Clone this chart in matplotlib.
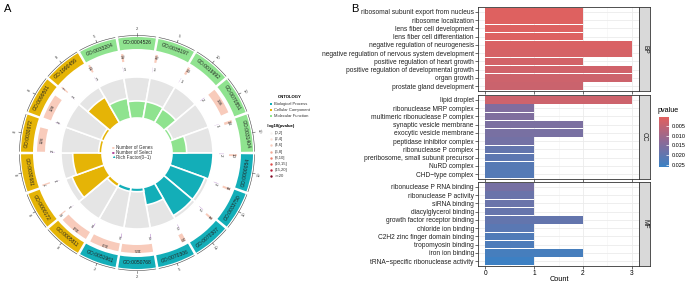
import numpy as np
import matplotlib.pyplot as plt
from matplotlib.colors import LinearSegmentedColormap, Normalize
from matplotlib.colorbar import ColorbarBase

plt.rcParams['font.family'] = ['Liberation Sans', 'DejaVu Sans']

# ---- panel B data ---------------------------------------------------------
bp_terms = ["ribosomal subunit export from nucleus", "ribosome localization",
            "lens fiber cell development", "lens fiber cell differentiation",
            "negative regulation of neurogenesis",
            "negative regulation of nervous system development",
            "positive regulation of heart growth",
            "positive regulation of developmental growth", "organ growth",
            "prostate gland development"]
bp_count = [2, 2, 2, 2, 3, 3, 2, 3, 3, 2]
bp_pvalue = [0.0011, 0.0011, 0.0013, 0.0013, 0.0019, 0.0024, 0.0029, 0.0032, 0.0036, 0.0040]

cc_terms = ["lipid droplet", "ribonuclease MRP complex",
            "multimeric ribonuclease P complex", "synaptic vesicle membrane",
            "exocytic vesicle membrane", "peptidase inhibitor complex",
            "ribonuclease P complex", "preribosome, small subunit precursor",
            "NuRD complex", "CHD\u2212type complex"]
cc_count = [3, 1, 1, 2, 2, 1, 1, 1, 1, 1]
cc_pvalue = [0.0036, 0.0150, 0.0152, 0.0158, 0.0162, 0.0170, 0.0195, 0.0205, 0.0215, 0.0218]

mf_terms = ["ribonuclease P RNA binding", "ribonuclease P activity", "siRNA binding",
            "diacylglycerol binding", "growth factor receptor binding",
            "chloride ion binding", "C2H2 zinc finger domain binding",
            "tropomyosin binding", "iron ion binding",
            "tRNA\u2212specific ribonuclease activity"]
mf_count = [1, 1, 1, 1, 2, 1, 1, 1, 2, 1]
mf_pvalue = [0.0165, 0.0185, 0.0185, 0.0190, 0.0195, 0.0210, 0.0225, 0.0230, 0.0240, 0.0255]

pv_ticks = [0.005, 0.010, 0.015, 0.020, 0.025]

# ---- panel A data (circle) --------------------------------------------------
go_ids = ["GO:0000054", "GO:0033750", "GO:0070307", "GO:0070306", "GO:0050768", "GO:0051961",
          "GO:0005811", "GO:0000172", "GO:0030681", "GO:0030672", "GO:0099501", "GO:1990456",
          "GO:0033204", "GO:0004526", "GO:0035197", "GO:0019992", "GO:0070851", "GO:0031404"]
go_ont = ["BP"] * 6 + ["CC"] * 6 + ["MF"] * 6
go_genes = [10, 11, 11, 23, 165, 153, 154, 6, 7, 126, 128, 7, 10, 12, 12, 13, 136, 14]
go_select = [2, 2, 2, 2, 3, 3, 3, 1, 1, 2, 2, 1, 1, 1, 1, 1, 2, 1]
go_axis_lab = [10, 10, 10, 5, 2, 2, 8, 8, 8, 8, 8, 8, 5, 2, 5, 10, 10, 10]

ont_names = ["Biological Process", "Cellular Component", "Molecular Function"]
ont_colors = {"BP": "#13AEB8", "CC": "#E5B406", "MF": "#8FE38F"}
logp_labels = ["(0,2]", "(2,4]", "(4,6]", "(6,8]", "(8,10]", "(10,15]", "(15,20]", ">=20"]
logp_colors = ["#F7F2F0", "#FBE3DA", "#F8CBBB", "#F3A995", "#EC7F6C", "#DE4C4A", "#B81E3A", "#7E0A26"]

fig = plt.figure(figsize=(6.85, 2.83), dpi=100)

# ---- circle -----------------------------------------------------------------
genes = np.array(go_genes, float)
sel = np.array(go_select, float)
rich = sel / genes
n = len(go_ids)
step = 360 / n
start = np.arange(n) * step
cent = np.deg2rad(start + step / 2)
cols = [ont_colors[o] for o in go_ont]

pa = fig.add_axes([7 / 685, 0, 260 / 685, 260 / 283], projection='polar')
pa.set_theta_zero_location('E')
pa.set_theta_direction(-1)
pa.set_ylim(0, 130)
pa.set_axis_off()


def rot(theta_deg, nice=False):
    r = (-theta_deg - 90 + 180) % 360 - 180
    if nice and (r > 90 or r < -90):
        r = r + 180 if r < 0 else r - 180
    return r


# rich factor ring
pa.bar(cent, 41, width=np.deg2rad(step), bottom=35, color="#E5E5E5",
       edgecolor="white", linewidth=1.2)
pa.bar(cent, 41 * rich / rich.max(), width=np.deg2rad(step), bottom=35, color=cols,
       edgecolor="white", linewidth=1.2)

# number of select ring
sw = sel / genes.max() * (step - 1)
pa.bar(np.deg2rad(start + 0.5 + sw / 2), 5, width=np.deg2rad(sw), bottom=82,
       color="#B07CC6", linewidth=0)
for i in range(n):
    th = start[i] + 1.5
    pa.text(np.deg2rad(th), 84, str(go_select[i]), fontsize=3.2, color="#333333",
            ha='center', va='center', rotation=rot(th), rotation_mode='anchor')

# number of genes ring
gw = genes / genes.max() * (step - 1.5)
gc = start + 0.75 + gw / 2
pa.bar(np.deg2rad(gc), 8, width=np.deg2rad(gw), bottom=92, color="#F8CBBB", linewidth=0)
for i in range(n):
    pa.text(np.deg2rad(gc[i]), 96, str(go_genes[i]), fontsize=3.2, color="#333333",
            ha='center', va='center', rotation=rot(gc[i]), rotation_mode='anchor')

# outer ontology band
pa.bar(cent, 12, width=np.deg2rad(step - 1.3), bottom=104, color=cols, linewidth=0)
for i in range(n):
    th = start[i] + step / 2
    pa.text(cent[i], 110, go_ids[i], fontsize=3.6, color="#222222",
            ha='center', va='center', rotation=rot(th, True), rotation_mode='anchor')
    arc = np.deg2rad(np.linspace(start[i] + 0.8, start[i] + step - 0.8, 30))
    pa.plot(arc, np.full(30, 117.5), color="#444444", lw=0.4)
    pa.plot([cent[i], cent[i]], [117.5, 120], color="#444444", lw=0.4)
    pa.text(cent[i], 124, str(go_axis_lab[i]), fontsize=3, color="#444444",
            ha='center', va='center', rotation=rot(th, True), rotation_mode='anchor')

# ---- legends of panel A (pixel overlay) -------------------------------------
ov = fig.add_axes([0, 0, 1, 1])
ov.set_xlim(0, 685)
ov.set_ylim(283, 0)
ov.axis('off')
ov.patch.set_alpha(0)

ov.text(113, 147.5, "\u25a0", color="#F8CBBB", fontsize=3.2, ha='center', va='center')
ov.text(113, 152.5, "\u25a0", color="#B0479A", fontsize=3.2, ha='center', va='center')
ov.text(113, 157.5, "\u25b2", color="#13AEB8", fontsize=3.2, ha='center', va='center')
for yy, t in zip([147.5, 152.5, 157.5], ["Number of Genes", "Number of Select", "Rich Factor(0~1)"]):
    ov.text(116.5, yy, t, fontsize=3.3, color="#333333", va='center')

ov.text(290, 97, "ONTOLOGY", fontsize=3.1, fontweight='bold', ha='center', va='center')
for k, nm in enumerate(ont_names):
    yy = 104 + k * 6.2
    ov.scatter([271], [yy], marker='s', s=2.5, color=list(ont_colors.values())[k], lw=0)
    ov.text(274.5, yy, nm, fontsize=3.0, color="#333333", va='center')
ov.text(267, 126, "-log10(pvalue)", fontsize=3.1, fontweight='bold', va='center')
for k, (lb, c) in enumerate(zip(logp_labels, logp_colors)):
    yy = 133 + k * 6.2
    ov.scatter([271], [yy], marker='o', s=3, color=c, lw=0)
    ov.text(274.5, yy, lb, fontsize=3.0, color="#333333", va='center')

fig.text(4 / 685, 1 - 9 / 283, "A", fontsize=8, va='center')
fig.text(351 / 685, 1 - 9 / 283, "B", fontsize=8, va='center')

# ---- panel B ----------------------------------------------------------------
cmap = LinearSegmentedColormap.from_list("pv", ["#E3605D", "#8C6A97", "#3A81C4"])
norm = Normalize(vmin=0.0004, vmax=0.0259)

panels = [(bp_terms, bp_count, bp_pvalue, "BP"),
          (cc_terms, cc_count, cc_pvalue, "CC"),
          (mf_terms, mf_count, mf_pvalue, "MF")]
tops = [7, 95, 182]
ph = 84
for k, (terms, cnt, pv, lab) in enumerate(panels):
    bottom = 1 - (tops[k] + ph) / 283
    ax = fig.add_axes([478 / 685, bottom, 161 / 685, ph / 283])
    y = np.arange(len(terms))[::-1]
    ax.barh(y, cnt, height=0.9, color=cmap(norm(np.array(pv))), zorder=3)
    ax.set_xlim(-0.15, 3.15)
    ax.set_ylim(-0.6, len(terms) - 0.4)
    ax.set_yticks(y)
    ax.set_yticklabels(terms, fontsize=4.8, color="#222222")
    ax.set_xticks([0, 1, 2, 3])
    ax.set_xticks([0.5, 1.5, 2.5], minor=True)
    ax.grid(which='major', color="#EBEBEB", lw=0.6, zorder=0)
    ax.grid(which='minor', axis='x', color="#F4F4F4", lw=0.4, zorder=0)
    ax.set_axisbelow(True)
    ax.tick_params(length=2, width=0.5, color="#333333", pad=1, labelsize=4.8)
    ax.tick_params(axis='x', pad=0.6)
    ax.tick_params(which='minor', length=0)
    for s in ax.spines.values():
        s.set_color("#333333")
        s.set_linewidth(0.6)
    if k < 2:
        ax.tick_params(axis='x', labelbottom=False)
    st = fig.add_axes([639 / 685, bottom, 11 / 685, ph / 283])
    st.set_facecolor("#D9D9D9")
    st.set_xticks([])
    st.set_yticks([])
    for s in st.spines.values():
        s.set_color("#333333")
        s.set_linewidth(0.6)
    st.text(0.5, 0.5, lab, rotation=-90, fontsize=4.8, color="#1A1A1A",
            ha='center', va='center', transform=st.transAxes)

fig.text((487 + 632) / 2 / 685, 1 - 279.5 / 283, "Count", fontsize=5.3,
         ha='center', va='center')

cax = fig.add_axes([659 / 685, 1 - 166.7 / 283, 10 / 685, 50 / 283])
cb = ColorbarBase(cax, cmap=cmap, norm=norm, ticks=pv_ticks)
cb.ax.invert_yaxis()
cb.outline.set_visible(False)
cb.ax.tick_params(labelsize=4, length=2, width=0.5, color="white", direction='in', pad=2)
cb.ax.set_yticklabels([f"{t:.3f}" for t in pv_ticks])
fig.text(658 / 685, 1 - 110 / 283, "pvalue", fontsize=5.2, va='center')

fig.savefig("out.png", dpi=100)
